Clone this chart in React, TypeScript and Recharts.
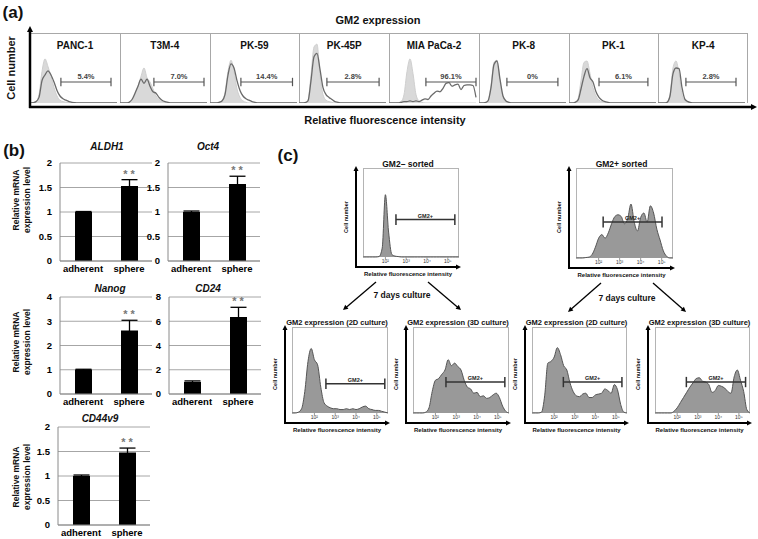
import React from 'react';
import {
  ComposedChart,
  Area,
  Line,
  XAxis,
  YAxis,
  ReferenceLine,
  ReferenceDot,
  BarChart,
  Bar,
  ErrorBar,
  CartesianGrid,
} from 'recharts';

const FONT = '"Liberation Sans", Arial, Helvetica, sans-serif';

// ---------- (a) GM2 expression in pancreatic cancer cell lines (30 bins per panel) ----------
const cellLines = ['PANC-1', 'T3M-4', 'PK-59', 'PK-45P', 'MIA PaCa-2', 'PK-8', 'PK-1', 'KP-4'];
const gm2Percent = ['5.4%', '7.0%', '14.4%', '2.8%', '96.1%', '0%', '6.1%', '2.8%'];
const gateFrom = [10.3, 11.3, 10.3, 9.3, 12.3, 9.3, 10, 9.3];
const gateTo = [27, 28, 27.5, 26.7, 29, 26.3, 26.3, 26];

const ctrlPanc1 = [0, 0.5, 2, 12, 45, 63, 52, 38, 22, 10, 4, 2, 1, 0.5, 0, 0, 0, 0, 0, 0, 0, 0, 0, 0, 0, 0, 0, 0, 0, 0];
const gm2Panc1 = [0, 0.5, 2, 8, 32, 40, 46, 40, 30, 18, 10, 6, 4, 2, 1, 0.5, 0, 0, 0, 0, 0, 0, 0, 0, 0, 0, 0, 0, 0, 0];
const ctrlT3m4 = [0, 0, 0, 1, 4, 12, 24, 38, 50, 36, 30, 20, 10, 5, 2, 1, 0, 0, 0, 0, 0, 0, 0, 0, 0, 0, 0, 0, 0, 0];
const gm2T3m4 = [0, 0, 0, 1, 5, 14, 24, 34, 28, 34, 24, 16, 14, 8, 4, 2, 1, 0, 0, 0, 0, 0, 0, 0, 0, 0, 0, 0, 0, 0];
const ctrlPk59 = [0, 0, 0, 1, 3, 15, 45, 61, 45, 20, 8, 3, 1, 0, 0, 0, 0, 0, 0, 0, 0, 0, 0, 0, 0, 0, 0, 0, 0, 0];
const gm2Pk59 = [0, 0, 0, 1, 3, 12, 40, 56, 50, 32, 18, 10, 6, 4, 2, 1, 0, 0, 0, 0, 0, 0, 0, 0, 0, 0, 0, 0, 0, 0];
const ctrlPk45p = [0, 0, 0.5, 4, 40, 80, 84, 40, 12, 4, 2, 1, 0, 0, 0, 0, 0, 0, 0, 0, 0, 0, 0, 0, 0, 0, 0, 0, 0, 0];
const gm2Pk45p = [0, 0, 0.5, 3, 32, 66, 71, 48, 22, 12, 8, 5, 2, 1, 0, 0, 0, 0, 0, 0, 0, 0, 0, 0, 0, 0, 0, 0, 0, 0];
const ctrlMia = [0, 0, 0, 0.5, 2, 12, 45, 63, 42, 12, 3, 1, 0, 0, 0, 0, 0, 0, 0, 0, 0, 0, 0, 0, 0, 0, 0, 0, 0, 0];
const gm2Mia = [0, 0, 0, 0, 1, 2, 2, 3, 2, 3, 2, 4, 6, 5, 10, 14, 17, 16, 21, 28, 29, 24, 26, 27, 19, 25, 26, 26, 25, 8];
const ctrlPk8 = [0, 0, 0.5, 3, 25, 58, 61, 30, 8, 2, 0.5, 0, 0, 0, 0, 0, 0, 0, 0, 0, 0, 0, 0, 0, 0, 0, 0, 0, 0, 0];
const gm2Pk8 = [0, 0, 0.5, 3, 22, 55, 60, 34, 10, 3, 1, 0, 0, 0, 0, 0, 0, 0, 0, 0, 0, 0, 0, 0, 0, 0, 0, 0, 0, 0];
const ctrlPk1 = [0, 0, 1, 6, 32, 58, 60, 42, 22, 10, 4, 2, 1, 0, 0, 0, 0, 0, 0, 0, 0, 0, 0, 0, 0, 0, 0, 0, 0, 0];
const gm2Pk1 = [0, 0, 1, 4, 20, 38, 49, 36, 30, 16, 8, 4, 2, 1, 0, 0, 0, 0, 0, 0, 0, 0, 0, 0, 0, 0, 0, 0, 0, 0];
const ctrlKp4 = [0, 0, 0, 1, 12, 50, 60, 42, 12, 3, 1, 0, 0, 0, 0, 0, 0, 0, 0, 0, 0, 0, 0, 0, 0, 0, 0, 0, 0, 0];
const gm2Kp4 = [0, 0, 0, 1, 10, 42, 50, 49, 22, 5, 2, 0.5, 0, 0, 0, 0, 0, 0, 0, 0, 0, 0, 0, 0, 0, 0, 0, 0, 0, 0];

const ctrlSeries = [ctrlPanc1, ctrlT3m4, ctrlPk59, ctrlPk45p, ctrlMia, ctrlPk8, ctrlPk1, ctrlKp4];
const gm2Series = [gm2Panc1, gm2T3m4, gm2Pk59, gm2Pk45p, gm2Mia, gm2Pk8, gm2Pk1, gm2Kp4];

// ---------- (b) relative mRNA expression ----------
const conditions = ['adherent', 'sphere'];
const aldh1Mean = [1.0, 1.53];
const aldh1Err = [0.01, 0.13];
const oct4Mean = [1.0, 1.57];
const oct4Err = [0.02, 0.16];
const nanogMean = [1.0, 2.62];
const nanogErr = [0.02, 0.42];
const cd24Mean = [1.0, 6.35];
const cd24Err = [0.08, 0.8];
const cd44v9Mean = [1.0, 1.48];
const cd44v9Err = [0.02, 0.09];
const ticks2 = [0, 0.5, 1, 1.5, 2];
const ticks4 = [0, 1, 2, 3, 4];
const ticks8 = [0, 2, 4, 6, 8];

// ---------- (c) sorted populations (31 log bins, decades at 7 / 13.5 / 20 / 26.5) ----------
const logTicks = [7, 13.5, 20, 26.5];
const logTickLabels = ['10²', '10³', '10⁴', '10⁵'];
const negSorted = [0, 0, 0, 0, 0, 0.5, 10, 70, 28, 3, 1, 0.5, 0, 0, 0, 0, 0, 0, 0, 0, 0, 0, 0, 0, 0, 0, 0, 0, 0, 0, 0];
const posSorted = [0, 0, 0, 0.5, 1, 4, 12, 22, 26, 22, 28, 38, 46, 48, 46, 38, 44, 60, 40, 30, 45, 50, 40, 58, 50, 32, 20, 8, 2, 0, 0];
const neg2D = [0, 0, 1, 5, 25, 60, 75, 62, 56, 30, 12, 8, 6, 5, 5, 4, 4, 5, 4, 5, 4, 5, 7, 8, 5, 4, 3, 3, 2, 1, 0];
const neg3D = [0, 0, 0, 0, 1, 6, 25, 38, 40, 45, 50, 62, 55, 58, 54, 50, 38, 30, 28, 23, 24, 19, 20, 17, 18, 21, 23, 18, 8, 2, 0];
const pos2D = [0, 0, 0, 1, 20, 58, 60, 65, 76, 68, 55, 50, 35, 25, 20, 19, 22, 23, 18, 18, 21, 22, 23, 28, 26, 23, 33, 27, 10, 1, 0];
const pos3D = [0, 0, 0, 0, 0, 0, 2, 6, 12, 18, 24, 30, 35, 40, 41, 37, 36, 33, 24, 26, 32, 31, 29, 25, 23, 42, 50, 38, 25, 4, 0];

const T = ({ x, y, size, children, rot, italic, color = '#111', weight = 700 }: any) => (
  <div
    style={{
      position: 'absolute',
      left: x,
      top: y,
      transform: `translate(-50%, -50%)${rot ? ` rotate(${rot}deg)` : ''}`,
      fontSize: size,
      fontWeight: weight,
      fontStyle: italic ? 'italic' : 'normal',
      color,
      whiteSpace: 'nowrap',
      lineHeight: 1,
    }}
  >
    {children}
  </div>
);

const Arrow = ({ x1, y1, x2, y2, w = 1.3, head = 5 }: any) => {
  const a = Math.atan2(y2 - y1, x2 - x1);
  const c = Math.cos(a);
  const s = Math.sin(a);
  const bx = x2 - head * c;
  const by = y2 - head * s;
  const pts = `${x2},${y2} ${bx + head * 0.5 * s},${by - head * 0.5 * c} ${bx - head * 0.5 * s},${by + head * 0.5 * c}`;
  return (
    <g>
      <line x1={x1} y1={y1} x2={bx + c} y2={by + s} stroke="#000" strokeWidth={w} />
      <polygon points={pts} fill="#000" />
    </g>
  );
};

const CellPanel = ({ i }: { i: number }) => {
  const data = ctrlSeries[i].map((c, k) => ({ bin: k, ctrl: c, gm2: gm2Series[i][k] }));
  const left = 30 + i * 89.75;
  const a = gateFrom[i];
  const b = gateTo[i];
  return (
    <>
      <div
        style={{
          position: 'absolute',
          left,
          top: 33,
          width: 90,
          height: 70,
          boxSizing: 'border-box',
          borderTop: '1px solid #a8a8a8',
          borderLeft: '1px solid #a8a8a8',
          borderRight: i === 7 ? '1px solid #a8a8a8' : 'none',
        }}
      />
      <div style={{ position: 'absolute', left, top: 33 }}>
        <ComposedChart width={90} height={70} data={data} margin={{ top: 0, right: 0, bottom: 0, left: 0 }}>
          <XAxis type="number" dataKey="bin" domain={[0, 30]} hide />
          <YAxis domain={[0, 100]} hide />
          <Area type="monotone" dataKey="ctrl" stroke="#cfcfcf" fill="#d9d9d9" fillOpacity={1} isAnimationActive={false} />
          <Line type="monotone" dataKey="gm2" stroke="#6a6a6a" strokeWidth={1.3} dot={false} isAnimationActive={false} />
          <ReferenceLine segment={[{ x: a, y: 30 }, { x: b, y: 30 }]} stroke="#555" strokeWidth={1.2} />
          <ReferenceLine segment={[{ x: a, y: 24 }, { x: a, y: 36 }]} stroke="#555" strokeWidth={1.2} />
          <ReferenceLine segment={[{ x: b, y: 24 }, { x: b, y: 36 }]} stroke="#555" strokeWidth={1.2} />
          <ReferenceDot
            x={(a + b) / 2}
            y={30}
            r={0}
            stroke="none"
            label={{ value: gm2Percent[i], position: 'top', offset: 3, fontSize: 7.5, fontWeight: 700, fill: '#444' }}
          />
        </ComposedChart>
      </div>
      <T x={left + 45} y={46} size={10}>
        {cellLines[i]}
      </T>
    </>
  );
};

// plotTop / plotH give the plot area in page pixels
const GeneChart = ({ left, plotTop, plotH, domain, ticks, mean, err, title, titleX, titleY }: any) => {
  const data = conditions.map((c, k) => ({ name: c, mean: mean[k], err: err[k] }));
  return (
    <>
      <T x={titleX} y={titleY} size={10} italic>
        {title}
      </T>
      <div style={{ position: 'absolute', left, top: plotTop - 8 }}>
        <BarChart width={118} height={plotH + 22} data={data} margin={{ top: 8, right: 2, bottom: 0, left: 0 }} barCategoryGap="30%">
          <CartesianGrid vertical={false} stroke="#a6a6a6" />
          <XAxis
            dataKey="name"
            height={14}
            interval={0}
            tickLine={false}
            tickSize={2}
            axisLine={{ stroke: '#8a8a8a' }}
            tick={{ fontSize: 9.5, fontWeight: 700, fill: '#000' }}
          />
          <YAxis
            width={24}
            domain={domain}
            ticks={ticks}
            interval={0}
            tickLine={false}
            axisLine={{ stroke: '#8a8a8a' }}
            tick={{ fontSize: 9.5, fontWeight: 700, fill: '#000' }}
          />
          <Bar dataKey="mean" fill="#000" barSize={17} isAnimationActive={false}>
            <ErrorBar dataKey="err" width={8} stroke="#000" strokeWidth={1.3} />
          </Bar>
          <ReferenceDot
            x="sphere"
            y={mean[1] + err[1]}
            r={0}
            stroke="none"
            label={{ value: '* *', position: 'top', offset: 2, fontSize: 11, fontWeight: 700, fill: '#777' }}
          />
        </BarChart>
      </div>
    </>
  );
};

const FlowPlot = ({ left, top, w, h, values, gate, title }: any) => {
  const data = values.map((v: number, k: number) => ({ bin: k, v }));
  const [a, b, g] = gate;
  const bottom = top + h;
  return (
    <>
      <div
        style={{
          position: 'absolute',
          left,
          top,
          width: w,
          height: h,
          boxSizing: 'border-box',
          border: '1px solid #b4b4b4',
        }}
      />
      <div style={{ position: 'absolute', left, top }}>
        <ComposedChart width={w} height={h + 10} data={data} margin={{ top: 0, right: 0, bottom: 0, left: 0 }}>
          <XAxis
            type="number"
            dataKey="bin"
            domain={[0, 30]}
            ticks={logTicks}
            tickFormatter={(t: number) => logTickLabels[logTicks.indexOf(t)]}
            height={10}
            axisLine={false}
            tickLine={{ stroke: '#999' }}
            tickSize={2}
            tickMargin={0}
            tick={{ fontSize: 5, fill: '#333' }}
          />
          <YAxis domain={[0, 100]} hide />
          <Area type="monotone" dataKey="v" stroke="#555" strokeWidth={1} fill="#999" fillOpacity={1} isAnimationActive={false} />
          <ReferenceLine segment={[{ x: a, y: g }, { x: b, y: g }]} stroke="#333" strokeWidth={1.5} />
          <ReferenceLine segment={[{ x: a, y: g - 6 }, { x: a, y: g + 6 }]} stroke="#333" strokeWidth={1.5} />
          <ReferenceLine segment={[{ x: b, y: g - 6 }, { x: b, y: g + 6 }]} stroke="#333" strokeWidth={1.5} />
          <ReferenceDot
            x={(a + b) / 2}
            y={g}
            r={0}
            stroke="none"
            label={{ value: 'GM2+', position: 'top', offset: 2, fontSize: 5.5, fontWeight: 700, fill: '#222' }}
          />
        </ComposedChart>
      </div>
      <T x={left + w / 2 - 3} y={top - 4} size={title.length > 14 ? 7.5 : 8.5}>
        {title}
      </T>
      <T x={left - 16} y={top + h / 2 + 4} size={5.5} rot={-90}>
        Cell number
      </T>
      <T x={left + w / 2 - 3} y={bottom + 17} size={6}>
        Relative fluorescence intensity
      </T>
    </>
  );
};

const flowBoxes = [
  { left: 363, top: 168, w: 96, h: 89, values: negSorted, gate: [10.3, 28.7, 42], title: 'GM2– sorted' },
  { left: 576, top: 168, w: 97, h: 90, values: posSorted, gate: [8.4, 26.6, 40], title: 'GM2+ sorted' },
  { left: 292, top: 327, w: 96, h: 86, values: neg2D, gate: [10.6, 29, 34], title: 'GM2 expression (2D culture)' },
  { left: 413, top: 327, w: 96, h: 86, values: neg3D, gate: [10.3, 28.7, 36], title: 'GM2 expression (3D culture)' },
  { left: 532, top: 327, w: 95, h: 86, values: pos2D, gate: [9.9, 28.4, 36], title: 'GM2 expression (2D culture)' },
  { left: 655, top: 327, w: 95, h: 86, values: pos3D, gate: [9.9, 28.6, 36], title: 'GM2 expression (3D culture)' },
];

export default function App() {
  return (
    <div
      style={{
        position: 'absolute',
        left: 0,
        top: 0,
        width: 758,
        height: 539,
        background: '#fff',
        fontFamily: FONT,
        overflow: 'hidden',
      }}
    >
      {/* (a) */}
      <T x={13} y={12} size={17}>(a)</T>
      <T x={378} y={20} size={11}>GM2 expression</T>
      <T x={11} y={68} size={11} rot={-90}>Cell number</T>
      <T x={385} y={120} size={11}>Relative fluorescence intensity</T>
      {cellLines.map((_, i) => (
        <CellPanel key={i} i={i} />
      ))}

      {/* (b) */}
      <T x={14} y={150} size={17}>(b)</T>
      <GeneChart left={36} plotTop={163} plotH={98} domain={[0, 2]} ticks={ticks2} mean={aldh1Mean} err={aldh1Err} title="ALDH1" titleX={107} titleY={147} />
      <GeneChart left={144} plotTop={163} plotH={98} domain={[0, 2]} ticks={ticks2} mean={oct4Mean} err={oct4Err} title="Oct4" titleX={208} titleY={147} />
      <GeneChart left={36} plotTop={297} plotH={97} domain={[0, 4]} ticks={ticks4} mean={nanogMean} err={nanogErr} title="Nanog" titleX={110} titleY={289} />
      <GeneChart left={145} plotTop={297} plotH={97} domain={[0, 8]} ticks={ticks8} mean={cd24Mean} err={cd24Err} title="CD24" titleX={208} titleY={289} />
      <GeneChart left={34} plotTop={427} plotH={98} domain={[0, 2]} ticks={ticks2} mean={cd44v9Mean} err={cd44v9Err} title="CD44v9" titleX={100} titleY={419} />
      {[200, 342, 477].map((cy) => (
        <React.Fragment key={cy}>
          <T x={16} y={cy} size={8.5} rot={-90}>Relative mRNA</T>
          <T x={27} y={cy} size={8.5} rot={-90}>expression level</T>
        </React.Fragment>
      ))}

      {/* (c) */}
      <T x={288} y={155} size={17}>(c)</T>
      {flowBoxes.map((f, i) => (
        <FlowPlot key={i} {...f} />
      ))}
      <T x={402} y={295} size={8.5}>7 days culture</T>
      <T x={627} y={298} size={8.5}>7 days culture</T>

      <svg width={758} height={539} style={{ position: 'absolute', left: 0, top: 0, pointerEvents: 'none' }}>
        {/* (a) axes */}
        <Arrow x1={30} y1={108} x2={30} y2={26} w={2.5} head={6} />
        <Arrow x1={29} y1={107} x2={757} y2={107} w={2.5} head={6} />
        {/* (c) axes */}
        {flowBoxes.map((f, i) => (
          <g key={i}>
            <Arrow x1={f.left - 7} y1={f.top + f.h + 11} x2={f.left - 7} y2={f.top - 2} w={2} head={5} />
            <Arrow x1={f.left - 8} y1={f.top + f.h + 10} x2={f.left + f.w + 2} y2={f.top + f.h + 10} w={2} head={5} />
          </g>
        ))}
        <Arrow x1={376} y1={282} x2={343} y2={310} />
        <Arrow x1={428} y1={282} x2={461} y2={310} />
        <Arrow x1={601} y1={283} x2={568} y2={312} />
        <Arrow x1={653} y1={283} x2={686} y2={312} />
      </svg>
    </div>
  );
}
